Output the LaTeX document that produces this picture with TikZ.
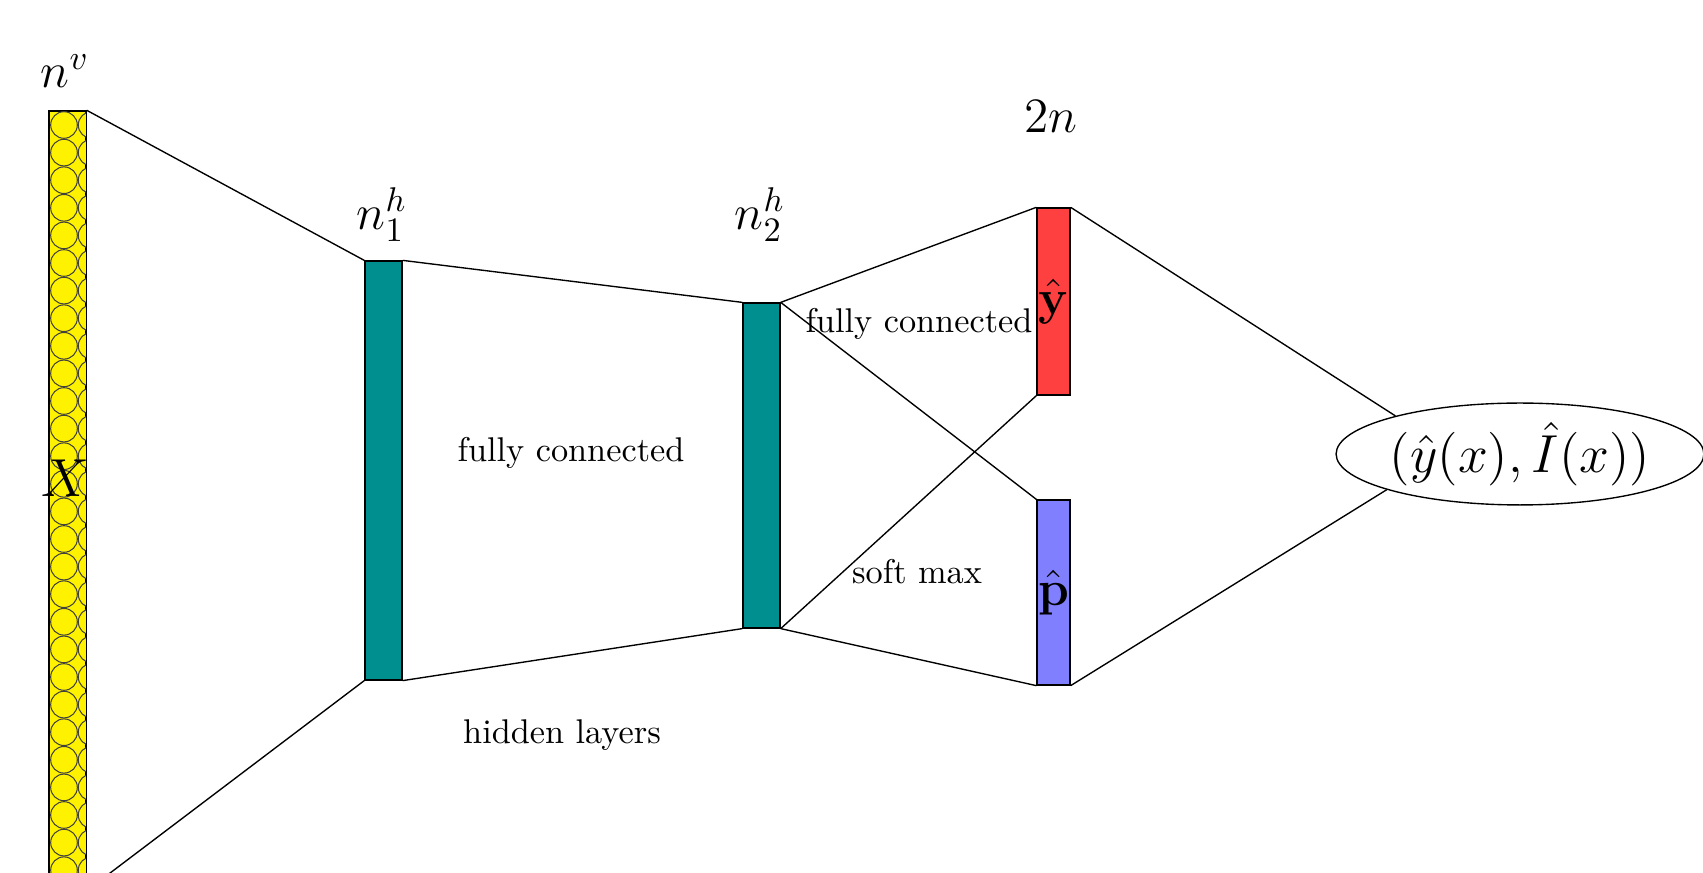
\RequirePackage{fix-cm}
\documentclass[tikz,border=0pt]{standalone}
\usetikzlibrary{shapes.geometric}
\definecolor{hidteal}{RGB}{0,143,143}

\begin{document}
\begin{tikzpicture}[x=0.2915pt,y=-0.2915pt,
  layer/.style={draw,inner sep=0pt,minimum width=10.8pt},
  lab/.style={font=\Large},
  biglab/.style={font=\fontsize{15.6}{19}\selectfont}]
\clip (0,0) rectangle (1703,873);
\node[layer,fill=yellow,minimum height=227.1pt] (inp) at (67.5,500.5) {};
\begin{scope}
\clip (inp.south west) rectangle (inp.north east);
\foreach \i in {0,1}{\foreach \j in {0,...,28}{
  \filldraw[fill=yellow,draw=black!75,line width=.3pt] (64+27.6*\i,125+27.6*\j) circle (3.88pt);}}
\end{scope}
\draw (inp.south west) rectangle (inp.north east);
\node[layer,fill=hidteal,minimum height=122.1pt] (h1) at (383.5,470.5) {};
\node[layer,fill=hidteal,minimum height=94.7pt] (h2) at (761.5,465.5) {};
\node[layer,fill=red!75,minimum width=9.6pt,minimum height=54.5pt,lab] (yh) at (1053.5,301.5) {$\hat{\mathbf{y}}$};
\node[layer,fill=blue!50,minimum width=9.6pt,minimum height=53.9pt,lab] (ph) at (1053.5,592.5) {$\hat{\mathbf{p}}$};
\node[draw,ellipse,inner sep=0pt,minimum width=106.7pt,minimum height=29.7pt,biglab] (out) at (1520,454) {$(\hat{y}(x),\hat{I}(x))$};
\foreach \n/\x/\y/\lab in {nv/65/71/n^v,nh1/382/215/n^h_1,nh2/760/215/n^h_2,nout/1051/117/2n}{\node[lab] (\n) at (\x,\y) {$\lab$};}
\node[biglab] (xlab) at (65,478) {$X$};
\node (fc1) at (571,453) {fully connected};
\node (hl) at (562,735) {hidden layers};
\node (fc2) at (919,324) {fully connected};
\node (sm) at (917,572) {soft max};
\draw (inp.north east) -- (h1.north west) (inp.south east) -- (h1.south west);
\draw (h1.north east) -- (h2.north west) (h1.south east) -- (h2.south west);
\draw (h2.north east) -- (yh.north west) (h2.north east) -- (ph.north west);
\draw (h2.south east) -- (yh.south west) (h2.south east) -- (ph.south west);
\draw (yh.north east) -- (out.163) (ph.south east) -- (out.195);
\end{tikzpicture}
\end{document}
